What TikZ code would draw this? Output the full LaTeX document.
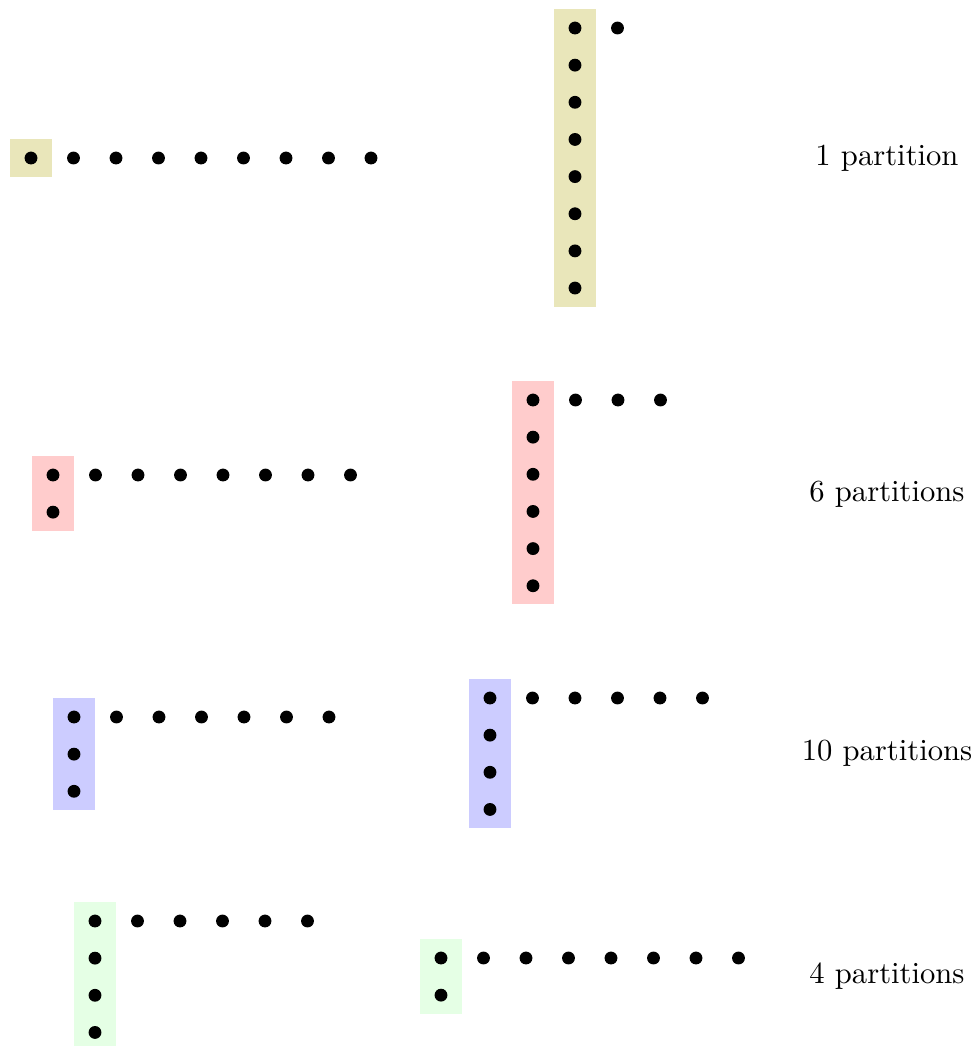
\documentclass[tikz,border=0pt]{standalone}
\tikzset{
  dot/.style={circle, fill=black, draw=none, inner sep=0pt, minimum size=4.2pt},
  lbl/.style={inner sep=0pt, font=\normalsize}
}
\newcommand{\ydiag}[6]{% name, x, y, row length, column height, colour
  \fill[#6] ({#2-21.25},{#3-18.6}) rectangle ({#2+21.25},{#3+18.6+(#5-1)*37.15});
  \foreach \j in {1,...,#5} \node[dot] (#1-c\j) at (#2,{#3+(\j-1)*37.15}) {};
  \foreach \i in {2,...,#4} \node[dot] (#1-r\i) at ({#2+(\i-1)*42.5},#3) {};
}
\begin{document}
\begin{tikzpicture}[x=0.3266pt, y=-0.3266pt]
\useasboundingbox (0,0) rectangle (975,1046);
% row 1
\ydiag{A1}{31}{158}{9}{1}{olive!20}
\ydiag{B1}{575}{28}{2}{8}{olive!20}
\node[lbl] (L1) at (887,158) {1 partition};
% row 2
\ydiag{A2}{53}{475}{8}{2}{red!20}
\ydiag{B2}{533}{400}{4}{6}{red!20}
\node[lbl] (L2) at (887,494) {6 partitions};
% row 3
\ydiag{A3}{74}{717}{7}{3}{blue!20}
\ydiag{B3}{490}{698}{6}{4}{blue!20}
\node[lbl] (L3) at (887,753) {10 partitions};
% row 4
\ydiag{A4}{95}{921}{6}{4}{green!10}
\ydiag{B4}{441}{958}{8}{2}{green!10}
\node[lbl] (L4) at (887,976) {4 partitions};
\end{tikzpicture}
\end{document}
